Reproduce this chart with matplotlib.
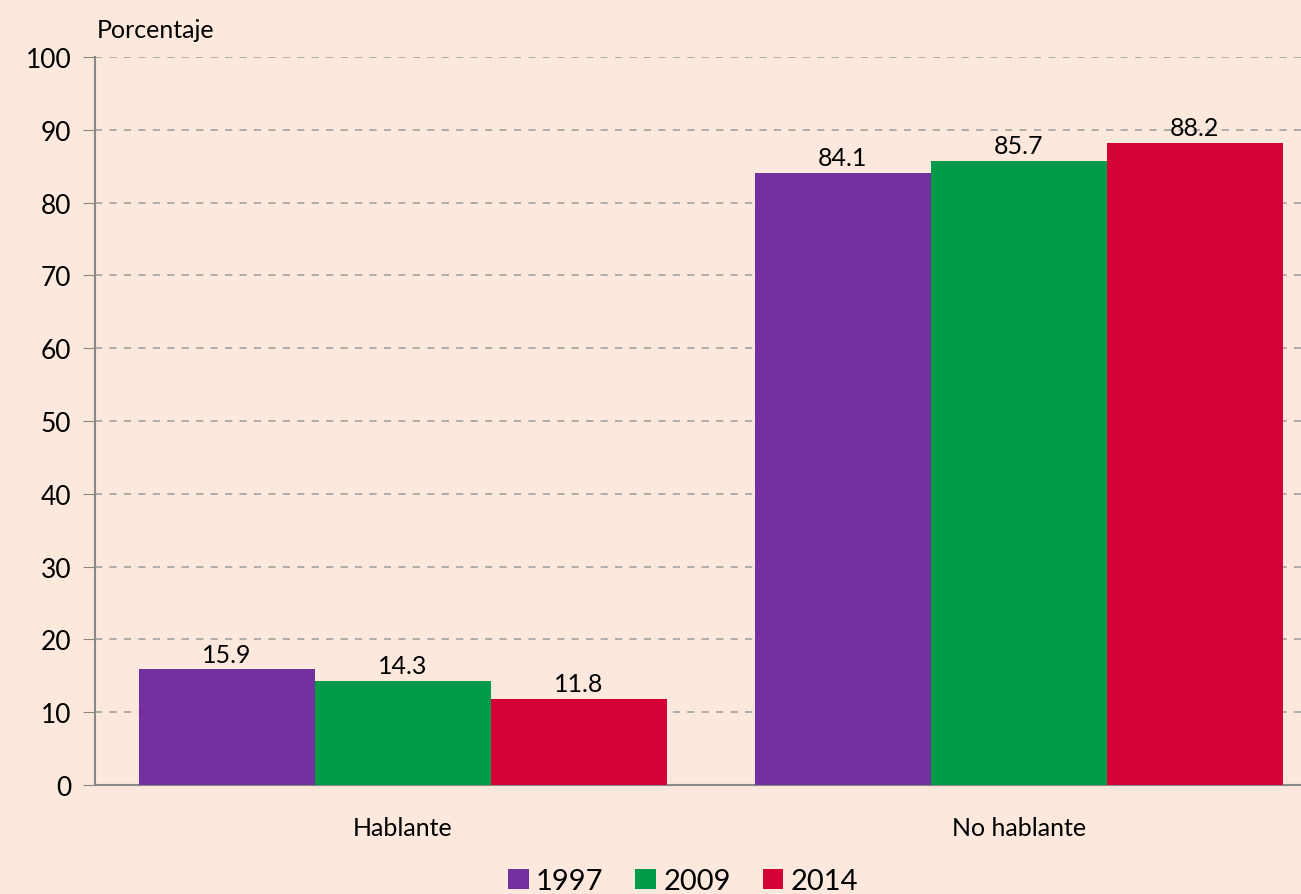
import numpy as np
import matplotlib.pyplot as plt

categories = ["Hablante", "No hablante"]
years = ["1997", "2009", "2014"]
values = {
    "1997": [15.9, 84.1],
    "2009": [14.3, 85.7],
    "2014": [11.8, 88.2],
}
colors = ["#7530A0", "#009B48", "#D50037"]
bg = "#FCE8DC"

plt.rcParams['font.family'] = ['Lato', 'DejaVu Sans']

fig = plt.figure(figsize=(13.01, 8.95), dpi=100, facecolor=bg)
ax = fig.add_axes([0.073, 0.1218, 0.927, 0.8134], facecolor=bg)

x = np.arange(len(categories))
w = 0.2857
for i, (yr, c) in enumerate(zip(years, colors)):
    pos = x + (i - 1) * w
    bars = ax.bar(pos, values[yr], width=w, color=c, label=yr, zorder=3)
    for b, v in zip(bars, values[yr]):
        ax.text(b.get_x() + b.get_width() / 2, v + 0.5, f"{v:.1f}",
                ha="center", va="bottom", fontsize=18, zorder=4)

ax.set_xlim(-0.5, 1.458)
ax.set_ylim(0, 100)
ax.set_yticks(range(0, 101, 10))
ax.set_xticks(x)
ax.set_xticklabels(categories, fontsize=18)
ax.tick_params(axis="y", labelsize=19, length=9, color="#888888", pad=8)
ax.tick_params(axis="x", length=0, pad=22)
ax.yaxis.grid(True, linestyle=(0, (4, 4)), color="#A8A8A8", linewidth=1.3, zorder=0)
for s in ["top", "right"]:
    ax.spines[s].set_visible(False)
for s in ["left", "bottom"]:
    ax.spines[s].set_color("#888888")
    ax.spines[s].set_linewidth(1.5)

fig.text(97 / 1301, 1 - 30 / 895, "Porcentaje", fontsize=18, va="center", ha="left")

ax.legend(loc="center", bbox_to_anchor=(0.0, 0.014, 1.05, 0.001), bbox_transform=fig.transFigure,
          ncol=3, frameon=False, fontsize=21, handlelength=0.7, handleheight=0.7,
          handletextpad=0.25, columnspacing=1.1, borderpad=0)

fig.savefig("out.png", dpi=100, facecolor=bg)
